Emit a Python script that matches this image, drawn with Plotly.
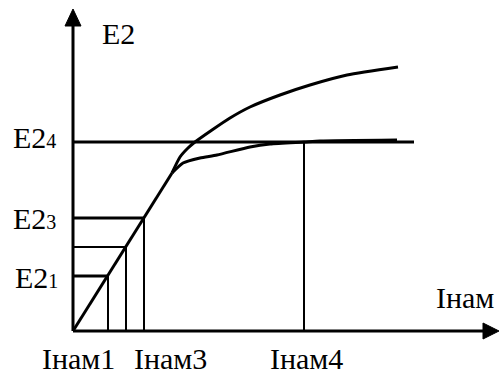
import plotly.graph_objects as go

# ---- data (schematic units, origin at axes crossing) ----
linear_x = [0, 99]
linear_y = [0, 158]

upper_x = [99, 107, 115, 122, 139, 157, 177, 207, 237, 274, 325]
upper_y = [158, 174, 183, 189, 201, 213, 224, 236, 246, 256, 264]

lower_x = [99, 110, 127, 144, 177, 197, 231, 247, 324]
lower_y = [158, 168, 173, 176, 184, 187, 189, 190, 191]

# levels E21, E22, E23, E24 and matching currents Iнам1..Iнам4
e_levels = [55, 84, 113, 189]
i_levels = [35, 53, 71, 231]
e_line_ends = [35, 53, 71, 341]
e_line_widths = [3, 2, 3, 3]

y_labels = ["E2<span style='font-size:20px'>1</span>", None,
            "E2<span style='font-size:20px'>3</span>",
            "E2<span style='font-size:20px'>4</span>"]
x_labels = ["Iнам1", None, "Iнам3", "Iнам4"]
axis_labels = ["Iнам", "E2"]

X_AXIS_END = 426
Y_AXIS_END = 322

FONT = "Liberation Serif, Times New Roman, serif"
BLACK = "#000000"

fig = go.Figure()

def add_line(xs, ys, w=3):
    fig.add_trace(go.Scatter(x=xs, y=ys, mode="lines",
                             line=dict(color=BLACK, width=w, shape="spline", smoothing=0.6),
                             hoverinfo="skip", showlegend=False))

# axes
add_line([0, X_AXIS_END - 8], [0, 0], 3)
add_line([0, 0], [0, Y_AXIS_END - 8], 3)
# arrowheads
fig.add_trace(go.Scatter(x=[X_AXIS_END, X_AXIS_END - 16, X_AXIS_END - 16, X_AXIS_END],
                         y=[0, 8, -8, 0], mode="lines", fill="toself",
                         fillcolor=BLACK, line=dict(color=BLACK, width=1),
                         hoverinfo="skip", showlegend=False))
fig.add_trace(go.Scatter(x=[0, -8, 8, 0],
                         y=[Y_AXIS_END, Y_AXIS_END - 17, Y_AXIS_END - 17, Y_AXIS_END],
                         mode="lines", fill="toself",
                         fillcolor=BLACK, line=dict(color=BLACK, width=1),
                         hoverinfo="skip", showlegend=False))

# level lines and drop lines
for e, xe, w in zip(e_levels, e_line_ends, e_line_widths):
    add_line([0, xe], [e, e], w)
for i, e in zip(i_levels, e_levels):
    add_line([i, i], [0, e], 2)

# curves
add_line(linear_x, linear_y, 3)
add_line(upper_x, upper_y, 3)
add_line(lower_x, lower_y, 3)

annotations = []
y_label_dx = [-13, 0, -15, -15]
y_label_dy = [-1, 0, 0, 4.5]
for lab, e, dx, dy in zip(y_labels, e_levels, y_label_dx, y_label_dy):
    if lab:
        annotations.append(dict(x=dx, y=e + dy, xref="x", yref="y", text=lab,
                                showarrow=False, xanchor="right", yanchor="middle"))
annotations.append(dict(x=27, y=298, xref="x", yref="y", text=axis_labels[1],
                        showarrow=False, xanchor="left", yanchor="middle"))
bottom_font = dict(family=FONT, size=30, color=BLACK)
for lab, xc in zip([x_labels[0], x_labels[2], x_labels[3]], [5.5, 97, 233]):
    annotations.append(dict(x=xc, y=-27, xref="x", yref="y", text=lab, font=bottom_font,
                            showarrow=False, xanchor="center", yanchor="middle"))
annotations.append(dict(x=392, y=33.5, xref="x", yref="y", text=axis_labels[0],
                        showarrow=False, xanchor="center", yanchor="middle"))

fig.update_layout(
    width=499, height=376,
    margin=dict(l=0, r=0, t=0, b=0),
    paper_bgcolor="white", plot_bgcolor="white",
    xaxis=dict(range=[-73, 426], visible=False, fixedrange=True),
    yaxis=dict(range=[-45, 331], visible=False, fixedrange=True),
    font=dict(family=FONT, size=30, color=BLACK),
    annotations=annotations,
    showlegend=False,
)

fig.write_html("out.html", config={"displayModeBar": False},
               post_script="document.body.style.margin='0';document.body.style.padding='0';")
